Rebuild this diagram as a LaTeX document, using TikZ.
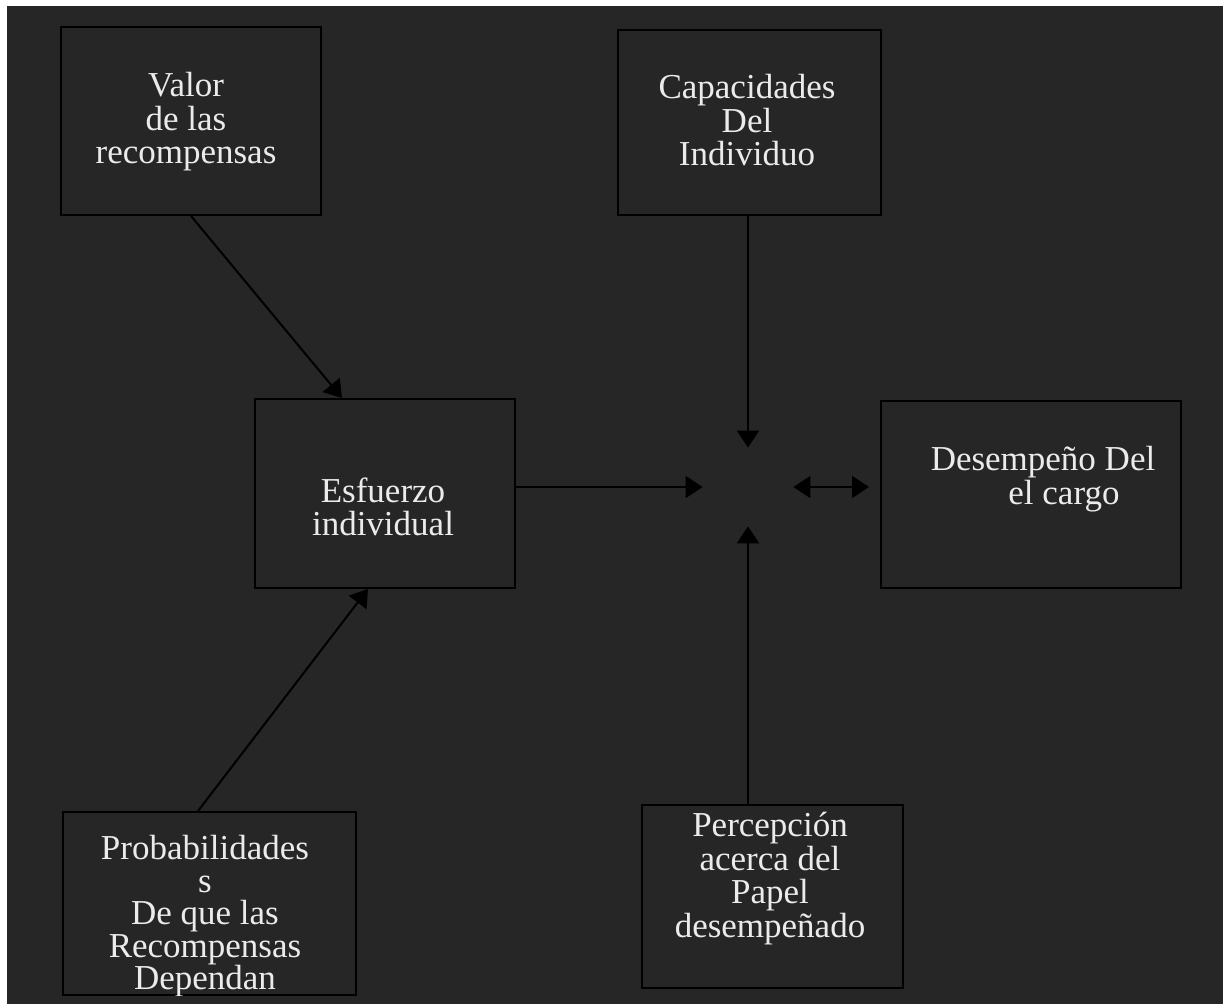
\documentclass[tikz,border=0pt]{standalone}
\usepackage{fontspec}
\setmainfont{Liberation Serif}
\usepackage{tikz}
\usetikzlibrary{%
  calc,%
  arrows.meta%
}
\definecolor{fondo}{HTML}{262626}
\definecolor{letra}{HTML}{EBEBEB}

\begin{document}
\begin{tikzpicture}[x=0.5pt,y=-0.5pt,
  caja/.style={draw=black,line width=1pt,inner sep=0pt},
  texto/.style={text=letra,font=\fontsize{17.5}{16.8}\selectfont,align=center,inner sep=0pt,anchor=north},
  flecha/.style={-{Triangle[length=8.5pt,width=11pt]},line width=1pt}]

\useasboundingbox (0,0) rectangle (1223,1004);
\fill[white] (0,0) rectangle (1223,1004);
\fill[fondo] (7,6) rectangle (1223,1004);

\node[caja,minimum width=130pt,minimum height=94pt] (valor) at (191,121) {};
\node[caja,minimum width=131.5pt,minimum height=92.5pt] (capac) at (749.5,122.5) {};
\node[caja,minimum width=130pt,minimum height=94.5pt] (esfuerzo) at (385,493.5) {};
\node[caja,minimum width=150pt,minimum height=93.5pt] (desemp) at (1031,494.5) {};
\node[caja,minimum width=146.5pt,minimum height=91.5pt] (probab) at (209.5,903.5) {};
\node[caja,minimum width=130.5pt,minimum height=91.5pt] (percep) at (772.5,896.5) {};
\node[minimum width=45pt,minimum height=39pt,inner sep=0pt] (centro) at (748,487) {};

\node[texto] (valorT) at (186,72) {Valor\\de las\\recompensas};
\node[texto] (capacT) at (747,74) {Capacidades\\Del\\Individuo};
\node[texto] (esfuerzoT) at (383,477) {Esfuerzo\\individual};
\node[texto] (desempT) at (1043,446) {Desempeño Del\\\hspace*{21pt}el cargo};
\node[texto] (percepT) at (770,812) {Percepción\\acerca del\\Papel\\desempeñado};
\begin{scope}
\clip (probab.north west) rectangle (probab.south east);
\node[texto,font=\fontsize{17.5}{16.25}\selectfont] (probabT) at (205,835) {Probabilidades\\s\\De que las\\Recompensas\\Dependan};
\end{scope}

\draw[flecha] (valor.south) -- ([xshift=-21.5pt]esfuerzo.north);
\draw[flecha] ([xshift=-5.75pt]probab.north) -- ([xshift=-8.5pt]esfuerzo.south);
\draw[flecha] (esfuerzo.east |- centro.west) -- (centro.west);
\draw[flecha] (capac.south -| centro.north) -- (centro.north);
\draw[flecha] (percep.north -| centro.south) -- (centro.south);
\draw[flecha,{Triangle[length=8.5pt,width=11pt]}-{Triangle[length=8.5pt,width=11pt]},shorten >=5.5pt] (centro.east) -- (centro.east -| desemp.west);
\end{tikzpicture}
\end{document}
